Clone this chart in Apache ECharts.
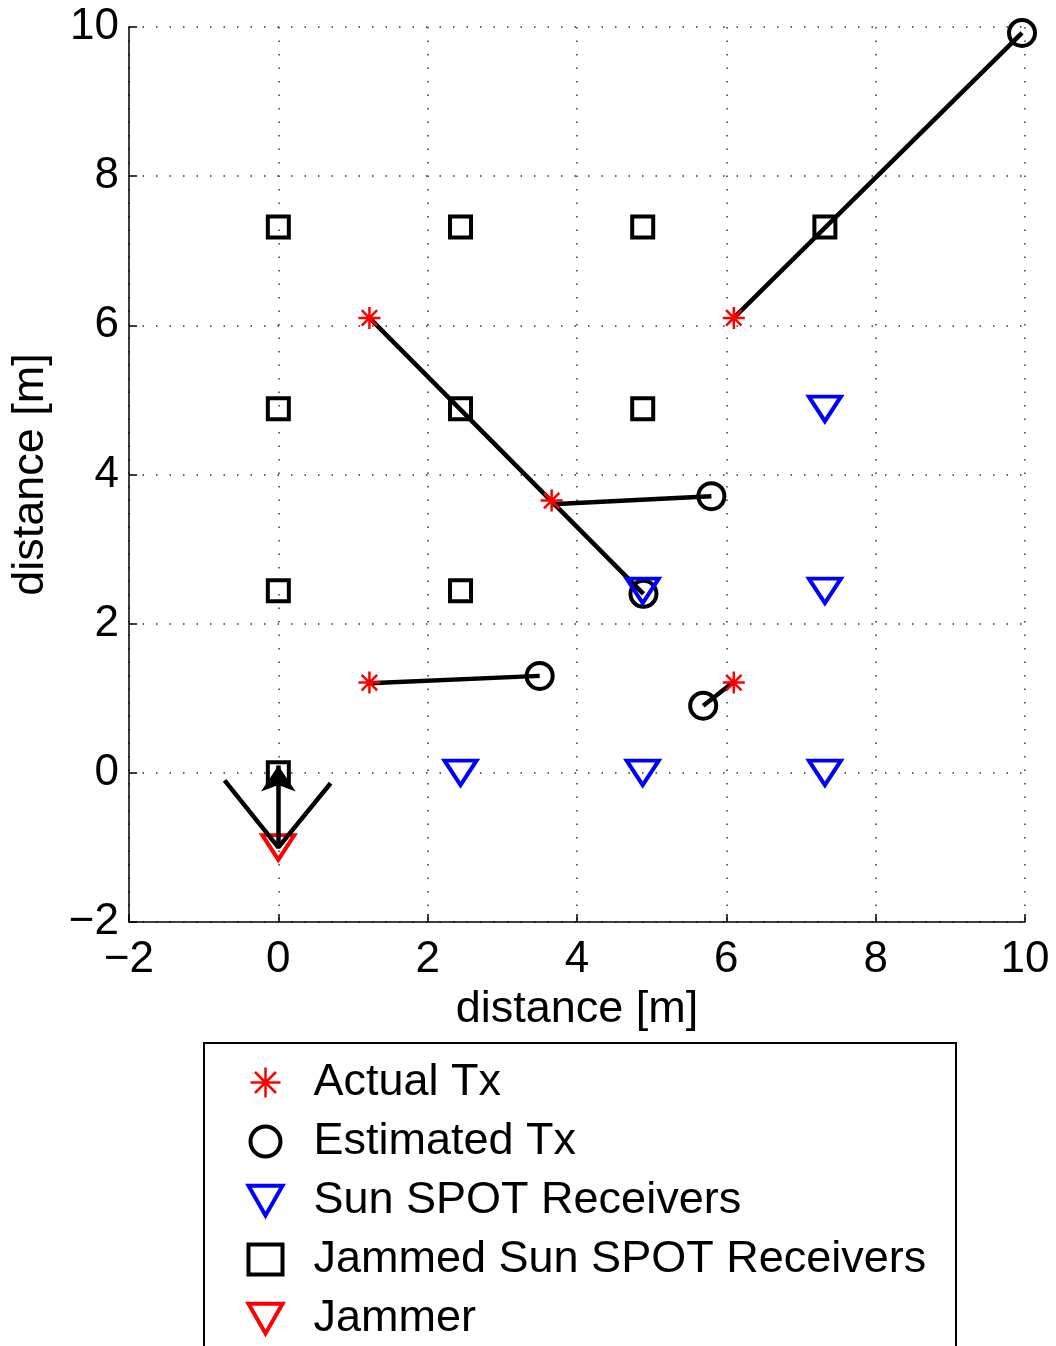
<!DOCTYPE html>
<html>
<head>
<meta charset="utf-8">
<script src="https://cdn.jsdelivr.net/npm/echarts@6/dist/echarts.min.js"></script>
<style>
html,body{margin:0;padding:0;background:#fff;}
#chart{width:1056px;height:1346px;}
</style>
</head>
<body>
<div id="chart"></div>
<script>
var actualTx = [[1.22, 6.1], [6.1, 6.1], [3.66, 3.65], [1.22, 1.21], [6.1, 1.21]];
var estimatedTx = [[9.96, 9.92], [4.89, 2.4], [5.8, 3.71], [3.5, 1.3], [5.69, 0.9]];
var receivers = [[7.32, 4.88], [4.88, 2.44], [7.32, 2.44], [2.44, 0], [4.88, 0], [7.32, 0]];
var jammedReceivers = [[0, 7.32], [2.44, 7.32], [4.88, 7.32], [7.32, 7.32],
    [0, 4.88], [2.44, 4.88], [4.88, 4.88], [0, 2.44], [2.44, 2.44], [0, 0]];
var jammer = [[0, -1]];
// error lines: actual -> estimated
var errorLines = [
    [[6.1, 6.1], [9.96, 9.92]],
    [[1.22, 6.1], [4.89, 2.4]],
    [[3.66, 3.6], [5.8, 3.71]],
    [[1.22, 1.2], [3.5, 1.3]],
    [[6.1, 1.22], [5.69, 0.9]]
];
var antennaV = [[-0.72, -0.1], [0, -1], [0.7, -0.14]];
var jammerArrow = [[0, -1], [0, 0.1]];

var font = "'Liberation Sans', Arial, sans-serif";
var starPath = 'path://M0,-1L0,1M-1,0L1,0M-0.7,-0.7L0.7,0.7M-0.7,0.7L0.7,-0.7';
var triDown = 'path://M0,0L2,0L1,1.75Z';

var chart = echarts.init(document.getElementById('chart'));

var axisCommon = {
    type: 'value',
    min: -2,
    max: 10,
    interval: 2,
    axisLine: {show: true, onZero: false, lineStyle: {color: '#000', width: 1.5}},
    axisTick: {show: true, inside: true, length: 8, lineStyle: {color: '#000', width: 1.5}},
    axisLabel: {
        color: '#000', fontSize: 44, fontFamily: font,
        formatter: function (v) { return v < 0 ? '\u2212' + (-v) : '' + v; }
    },
    splitLine: {show: true, lineStyle: {color: '#333', width: 1.5, type: [1.5, 12]}},
    name: 'distance [m]',
    nameLocation: 'middle',
    nameTextStyle: {color: '#000', fontSize: 45, fontFamily: font}
};

var series = [];
errorLines.forEach(function (seg, i) {
    series.push({
        name: 'err' + i, type: 'line', data: seg, symbol: 'none',
        lineStyle: {color: '#000', width: 4.5}, z: 2, silent: true
    });
});
series.push({
    name: 'antenna', type: 'line', data: antennaV, symbol: 'none',
    lineStyle: {color: '#000', width: 4.5}, z: 2
});
series.push({
    name: 'arrow', type: 'lines', coordinateSystem: 'cartesian2d',
    data: [{coords: jammerArrow}],
    symbol: ['none', 'arrow'], symbolSize: 26,
    lineStyle: {color: '#000', width: 4.5, opacity: 1}, z: 4
});
series.push({
    name: 'Actual Tx', type: 'scatter', data: actualTx, symbol: starPath, symbolSize: 22,
    symbolKeepAspect: true,
    itemStyle: {color: 'none', borderColor: '#ff0000', borderWidth: 2.5, opacity: 1}, z: 5
});
series.push({
    name: 'Estimated Tx', type: 'scatter', data: estimatedTx, symbol: 'circle', symbolSize: 26,
    symbolKeepAspect: true,
    itemStyle: {color: 'none', borderColor: '#000', borderWidth: 4, opacity: 1}, z: 3
});
series.push({
    name: 'Sun SPOT Receivers', type: 'scatter', data: receivers, symbol: triDown, symbolSize: [32, 28],
    symbolKeepAspect: true,
    itemStyle: {color: 'none', borderColor: '#0000ff', borderWidth: 4, opacity: 1}, z: 3
});
series.push({
    name: 'Jammed Sun SPOT Receivers', type: 'scatter', data: jammedReceivers, symbol: 'rect', symbolSize: 21,
    symbolKeepAspect: true,
    itemStyle: {color: 'none', borderColor: '#000', borderWidth: 4, opacity: 1}, z: 3
});
series.push({
    name: 'Jammer', type: 'scatter', data: jammer, symbol: triDown, symbolSize: [32, 28],
    symbolKeepAspect: true,
    itemStyle: {color: 'none', borderColor: '#ff0000', borderWidth: 4, opacity: 1}, z: 1
});

option = {
    backgroundColor: '#fff',
    animation: false,
    grid: {left: 128, right: 31, top: 27, bottom: 424},
    xAxis: Object.assign({}, axisCommon, {nameGap: 59, axisLabel: Object.assign({}, axisCommon.axisLabel, {margin: 16})}),
    yAxis: Object.assign({}, axisCommon, {nameGap: 76, axisLabel: Object.assign({}, axisCommon.axisLabel, {margin: 10})}),
    legend: {
        orient: 'vertical',
        left: 204,
        top: 1043,
        padding: [17, 10, 0, 42],
        itemWidth: 34,
        itemHeight: 30,
        itemGap: 14,
        textStyle: {color: '#000', fontSize: 45, fontFamily: font, lineHeight: 45, padding: [0, 0, 0, 26]},
        data: [
            {name: 'Actual Tx', itemStyle: {borderWidth: 2.5}},
            {name: 'Estimated Tx', itemStyle: {borderWidth: 4}},
            {name: 'Sun SPOT Receivers', itemStyle: {borderWidth: 4}},
            {name: 'Jammed Sun SPOT Receivers', itemStyle: {borderWidth: 4}},
            {name: 'Jammer', itemStyle: {borderWidth: 4}}
        ]
    },
    graphic: [{
        type: 'rect',
        shape: {x: 204, y: 1043, width: 752, height: 400},
        style: {fill: 'none', stroke: '#000', lineWidth: 2},
        z: -1
    }],
    series: series
};
chart.setOption(option);
</script>
</body>
</html>
